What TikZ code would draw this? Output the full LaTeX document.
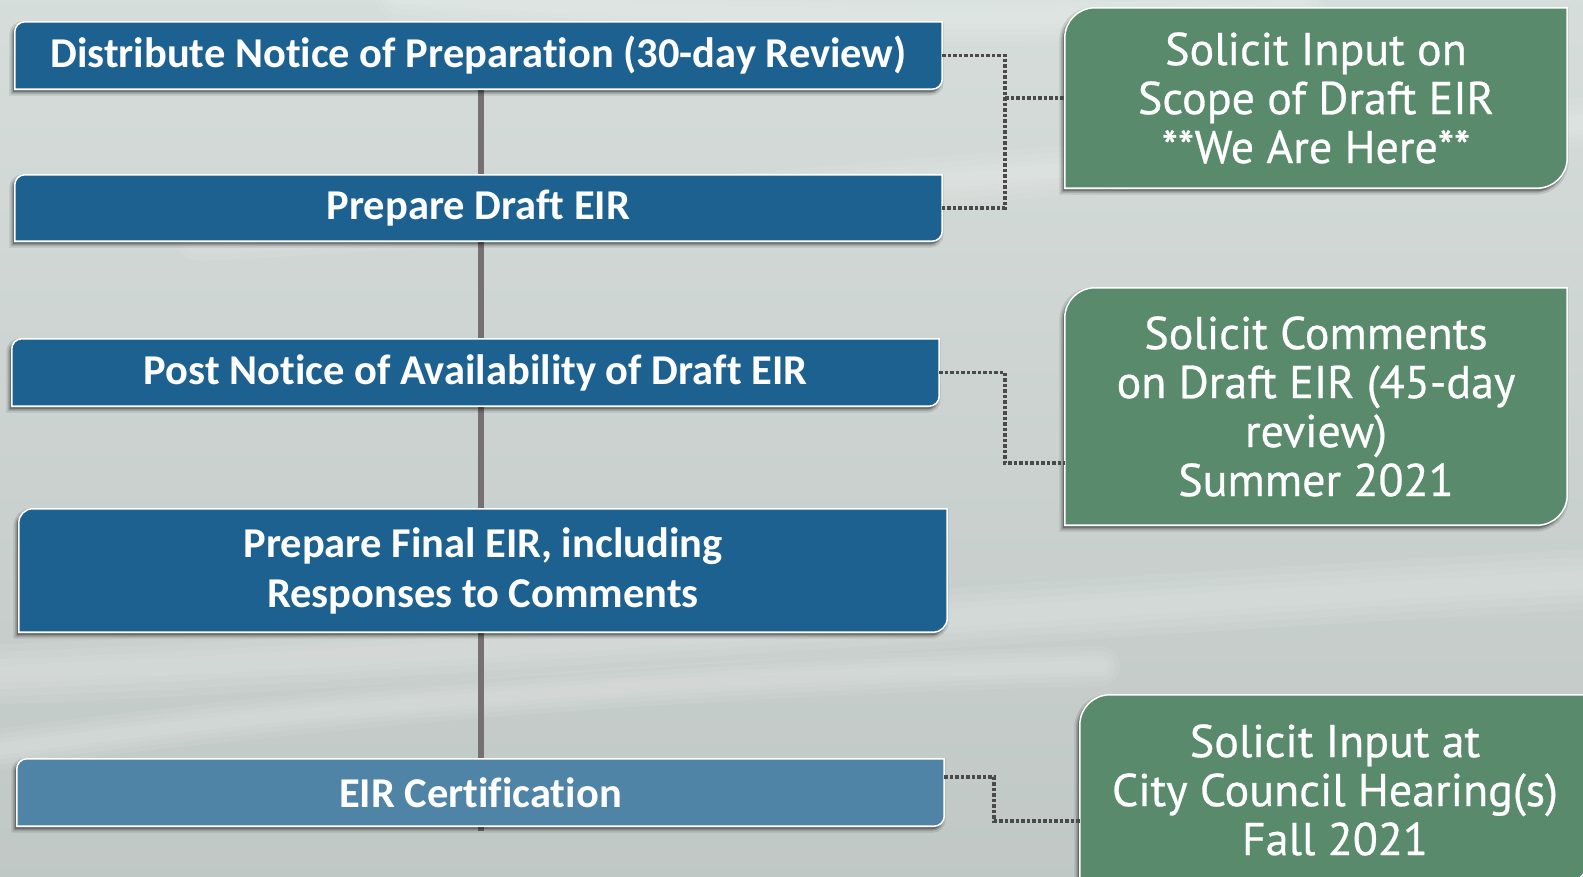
\documentclass[tikz,border=0pt]{standalone}
\usepackage{fontspec}
\setmainfont[Ligatures=NoCommon]{Carlito}
\newfontfamily\gfont[FakeBold=0.6]{PT Sans}
\usetikzlibrary{backgrounds,calc}
\definecolor{bgc}{HTML}{D1D9D6}
\definecolor{bluebox}{HTML}{1D6190}
\definecolor{lightblue}{HTML}{4F84A6}
\definecolor{greenbox}{HTML}{588A6B}
\definecolor{vline}{HTML}{757170}
\definecolor{dotc}{HTML}{4A4A4A}
\newcommand\dshape[3]{%
  \path[#3] (#1.south west) -- ([yshift=-#2]#1.north west)
    arc[start angle=180,end angle=90,radius=#2] -- (#1.north east)
    -- ([yshift=#2]#1.south east) arc[start angle=0,end angle=-90,radius=#2] -- cycle;}
\newcommand\boxwithshadow[3]{%
  \dshape{#1}{#2}{fill=black,opacity=0.10,draw=black,line width=7pt,transform canvas={xshift=-2pt,yshift=-3pt}}
  \dshape{#1}{#2}{fill=black,opacity=0.18,draw=black,line width=3pt,transform canvas={xshift=-2pt,yshift=-3pt}}
  \dshape{#1}{#2}{fill=#3,draw=white,line width=1.5pt}}
\newcommand\streak[2]{% path, base width
  \foreach \w in {1,0.75,0.5,0.3}{\draw[white,opacity=0.07,line width=\w*#2,line cap=round] #1;}}
\tikzset{
  stepbox/.style={minimum width=927pt,minimum height=67pt,inner sep=0pt,
    text=white,font=\bfseries\fontsize{42.5}{50}\selectfont,align=center},
  notebox/.style={minimum width=502pt,inner sep=0pt,
    text=white,font=\gfont\fontsize{46}{49}\selectfont,align=center},
  dotline/.style={draw=dotc,line width=3.5pt,dash pattern=on 3.5pt off 2pt}
}
\begin{document}
\begin{tikzpicture}[x=1pt,y=1pt]
\useasboundingbox (0,0) rectangle (1583,876);
\clip (0,0) rectangle (1583,876);
% nodes
\node[stepbox] (b1) at (478.5,820.5) {Distribute Notice of Preparation (30-day Review)};
\node[stepbox,minimum height=66pt] (b2) at (478.5,668) {Prepare Draft EIR};
\node[stepbox] (b3) at (475.5,503.5) {Post Notice of Availability of Draft EIR};
\node[stepbox,minimum width=928pt,minimum height=123pt] (b4) at (483,305.5) {Prepare Final EIR, including\\Responses to Comments};
\node[stepbox] (b5) at (480.5,83.5) {EIR Certification};
\node[notebox,minimum height=180pt] (g1) at (1316,778) {Solicit Input on\\Scope of Draft EIR\\**We Are Here**};
\node[notebox,minimum height=237pt] (g2) at (1316,469.5) {Solicit Comments\\on Draft EIR (45-day\\review)\\Summer 2021};
\node[notebox,minimum width=510pt,minimum height=190pt] (g3) at (1335,86) {Solicit Input at\\City Council Hearing(s)\\Fall 2021};
\begin{scope}[on background layer]
  \shade[top color=bgc!90!white,bottom color=bgc!92!black] (0,0) rectangle (1583,876);
  \streak{(-50,200) .. controls (400,215) and (900,260) .. (1650,300)}{60pt}
  \streak{(-50,120) .. controls (300,170) and (700,200) .. (1100,210)}{40pt}
  \streak{(200,640) .. controls (600,660) and (1000,700) .. (1650,760)}{50pt}
  \streak{(400,880) .. controls (700,860) and (1000,850) .. (1300,870)}{50pt}
  \draw[vline,line width=6pt] (481,787) -- (481,45);
  \boxwithshadow{b1}{10pt}{bluebox}
  \boxwithshadow{b2}{10pt}{bluebox}
  \boxwithshadow{b3}{10pt}{bluebox}
  \boxwithshadow{b4}{14pt}{bluebox}
  \boxwithshadow{b5}{10pt}{lightblue}
  \boxwithshadow{g1}{30pt}{greenbox}
  \boxwithshadow{g2}{30pt}{greenbox}
  \boxwithshadow{g3}{30pt}{greenbox}
\end{scope}
% connectors
\coordinate (j1) at (1005,778);
\coordinate (j2) at (1005,413);
\coordinate (j3) at (994,55);
\draw[dotline] (b1.east) -| (j1) |- (b2.east);
\draw[dotline] (j1) -- (g1.west);
\draw[dotline] (b3.east) -| (j2) -- (j2 -| g2.west);
\draw[dotline] ($(b5.east)+(0,15.5)$) -| (j3) -- (j3 -| g3.west);
\end{tikzpicture}
\end{document}
